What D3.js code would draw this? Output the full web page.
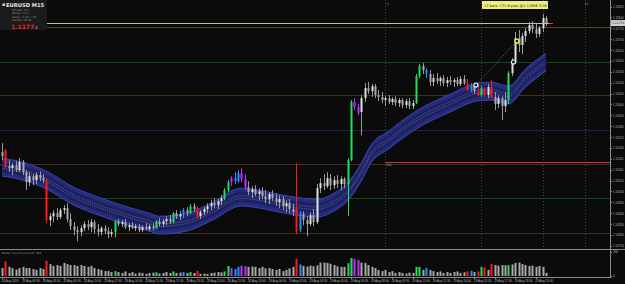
<!DOCTYPE html>
<html>
<head>
<meta charset="utf-8">
<style>
  html, body { margin: 0; padding: 0; background: #0b0b0b; }
  svg { display: block; font-family: "DejaVu Sans", Arial, sans-serif; }
  .axis path, .axis line { stroke: #8a8a8a; shape-rendering: crispEdges; }
  .axis text { fill: #b4b4b4; }
</style>
</head>
<body>
<svg id="chart" width="625" height="284"></svg>
<script src="https://d3js.org/d3.v7.min.js"></script>
<script>
// EURUSD M15 bars (bar 0 = leftmost)
const opens = [
  1.11181,1.11190,1.11116,1.11107,1.11121,1.11098,1.11135,1.11089,1.11043,1.11070,
  1.11052,1.11075,1.11061,1.11052,1.10868,1.10886,1.10900,1.10882,1.10914,1.10923,
  1.10873,1.10840,1.10822,1.10813,1.10831,1.10850,1.10836,1.10859,1.10827,1.10813,
  1.10831,1.10817,1.10804,1.10813,1.10863,1.10850,1.10859,1.10836,1.10845,1.10831,
  1.10840,1.10822,1.10836,1.10827,1.10840,1.10831,1.10863,1.10850,1.10863,1.10873,
  1.10859,1.10900,1.10886,1.10896,1.10914,1.10900,1.10932,1.10923,1.10886,1.10905,
  1.10919,1.10932,1.10946,1.10937,1.10955,1.10969,1.11006,1.11043,1.11061,1.11047,
  1.11084,1.11057,1.11020,1.10997,1.11011,1.10988,1.11001,1.10978,1.10965,1.10988,
  1.10969,1.10951,1.10965,1.10932,1.10946,1.10919,1.10923,1.10822,1.10896,1.10868,
  1.10850,1.10891,1.10859,1.11015,1.11038,1.11024,1.11061,1.11029,1.11052,1.11034,
  1.11057,1.11034,1.11144,1.11411,1.11388,1.11365,1.11429,1.11475,1.11461,1.11484,
  1.11443,1.11434,1.11420,1.11429,1.11411,1.11425,1.11406,1.11420,1.11397,1.11415,
  1.11392,1.11406,1.11530,1.11576,1.11558,1.11540,1.11503,1.11521,1.11507,1.11521,
  1.11498,1.11512,1.11503,1.11512,1.11494,1.11517,1.11498,1.11466,1.11484,1.11461,
  1.11443,1.11475,1.11443,1.11480,1.11434,1.11402,1.11429,1.11392,1.11420,1.11544,
  1.11595,1.11705,1.11673,1.11714,1.11737,1.11765,1.11747,1.11724,1.11751,1.11797]
const highs = [
  1.11222,1.11195,1.11144,1.11130,1.11139,1.11153,1.11144,1.11098,1.11089,1.11080,
  1.11089,1.11093,1.11080,1.11061,1.10900,1.10914,1.10923,1.10923,1.10937,1.10946,
  1.10900,1.10859,1.10840,1.10845,1.10863,1.10868,1.10873,1.10868,1.10850,1.10840,
  1.10845,1.10836,1.10827,1.10868,1.10873,1.10868,1.10873,1.10854,1.10859,1.10850,
  1.10850,1.10845,1.10854,1.10850,1.10854,1.10868,1.10877,1.10873,1.10886,1.10891,
  1.10905,1.10914,1.10909,1.10923,1.10928,1.10942,1.10946,1.10932,1.10914,1.10928,
  1.10946,1.10960,1.10969,1.10965,1.10983,1.11015,1.11052,1.11070,1.11089,1.11098,
  1.11107,1.11080,1.11047,1.11024,1.11029,1.11015,1.11020,1.11006,1.10997,1.11006,
  1.10992,1.10983,1.10978,1.10960,1.10965,1.10942,1.11130,1.10909,1.10909,1.10886,
  1.10905,1.10919,1.11034,1.11061,1.11080,1.11089,1.11080,1.11070,1.11075,1.11070,
  1.11066,1.11153,1.11420,1.11429,1.11402,1.11443,1.11498,1.11503,1.11494,1.11494,
  1.11466,1.11457,1.11438,1.11443,1.11434,1.11438,1.11429,1.11429,1.11425,1.11429,
  1.11420,1.11540,1.11586,1.11590,1.11567,1.11558,1.11540,1.11544,1.11530,1.11535,
  1.11526,1.11530,1.11521,1.11526,1.11530,1.11535,1.11517,1.11498,1.11494,1.11494,
  1.11484,1.11480,1.11494,1.11512,1.11457,1.11443,1.11438,1.11457,1.11553,1.11613,
  1.11733,1.11742,1.11728,1.11751,1.11779,1.11783,1.11770,1.11760,1.11816,1.11806]
const lows = [
  1.11144,1.11107,1.11089,1.11075,1.11089,1.11089,1.11075,1.11006,1.11024,1.11029,
  1.11034,1.11047,1.11038,1.10854,1.10840,1.10859,1.10868,1.10873,1.10896,1.10859,
  1.10822,1.10799,1.10771,1.10794,1.10817,1.10822,1.10813,1.10808,1.10794,1.10799,
  1.10804,1.10785,1.10790,1.10790,1.10840,1.10836,1.10827,1.10817,1.10827,1.10817,
  1.10813,1.10813,1.10822,1.10817,1.10822,1.10827,1.10840,1.10836,1.10845,1.10850,
  1.10854,1.10873,1.10868,1.10877,1.10886,1.10896,1.10905,1.10877,1.10873,1.10891,
  1.10900,1.10914,1.10923,1.10919,1.10937,1.10960,1.10997,1.11024,1.11034,1.11038,
  1.11043,1.11006,1.10983,1.10969,1.10978,1.10960,1.10965,1.10946,1.10942,1.10955,
  1.10932,1.10923,1.10914,1.10905,1.10900,1.10886,1.10804,1.10813,1.10845,1.10794,
  1.10840,1.10840,1.10850,1.10992,1.11006,1.11015,1.11006,1.11011,1.11015,1.11006,
  1.11015,1.10886,1.11139,1.11374,1.11351,1.11259,1.11411,1.11448,1.11434,1.11429,
  1.11415,1.11406,1.11392,1.11402,1.11397,1.11392,1.11388,1.11383,1.11383,1.11379,
  1.11379,1.11402,1.11521,1.11540,1.11521,1.11484,1.11484,1.11494,1.11484,1.11484,
  1.11480,1.11489,1.11480,1.11484,1.11484,1.11489,1.11461,1.11457,1.11448,1.11438,
  1.11434,1.11434,1.11429,1.11429,1.11374,1.11383,1.11328,1.11365,1.11402,1.11530,
  1.11586,1.11641,1.11632,1.11687,1.11724,1.11728,1.11705,1.11710,1.11733,1.11760]
const closes = [
  1.11162,1.11116,1.11107,1.11121,1.11098,1.11135,1.11089,1.11043,1.11070,1.11052,
  1.11075,1.11061,1.11052,1.10868,1.10886,1.10900,1.10882,1.10914,1.10923,1.10873,
  1.10840,1.10822,1.10813,1.10831,1.10850,1.10836,1.10859,1.10827,1.10813,1.10831,
  1.10817,1.10804,1.10813,1.10863,1.10850,1.10859,1.10836,1.10845,1.10831,1.10840,
  1.10822,1.10836,1.10827,1.10840,1.10831,1.10863,1.10850,1.10863,1.10873,1.10859,
  1.10900,1.10886,1.10896,1.10914,1.10900,1.10932,1.10919,1.10886,1.10905,1.10919,
  1.10932,1.10946,1.10937,1.10955,1.10969,1.11006,1.11043,1.11061,1.11047,1.11084,
  1.11057,1.11020,1.10997,1.11011,1.10988,1.11001,1.10978,1.10965,1.10988,1.10969,
  1.10951,1.10965,1.10932,1.10946,1.10919,1.10905,1.10817,1.10896,1.10868,1.10850,
  1.10891,1.10859,1.11015,1.11038,1.11024,1.11061,1.11029,1.11052,1.11034,1.11057,
  1.11034,1.11144,1.11411,1.11388,1.11360,1.11429,1.11475,1.11461,1.11484,1.11443,
  1.11434,1.11420,1.11429,1.11411,1.11425,1.11406,1.11420,1.11397,1.11415,1.11392,
  1.11406,1.11530,1.11576,1.11558,1.11540,1.11503,1.11521,1.11507,1.11521,1.11498,
  1.11512,1.11503,1.11512,1.11494,1.11517,1.11498,1.11466,1.11484,1.11461,1.11443,
  1.11475,1.11443,1.11480,1.11434,1.11402,1.11429,1.11392,1.11420,1.11544,1.11595,
  1.11705,1.11673,1.11714,1.11737,1.11765,1.11747,1.11724,1.11751,1.11797,1.11774]
// tick volume per bar
const volumes = [
  130,240,150,130,105,130,150,130,130,115,
  100,130,115,250,195,165,180,165,215,195,
  180,180,165,180,165,150,165,130,115,100,
  80,80,65,80,65,50,75,50,65,40,
  55,50,35,50,55,60,40,50,65,50,
  75,50,55,65,50,65,50,85,35,40,
  35,50,55,65,60,75,165,130,115,150,
  170,165,150,155,150,130,150,125,130,115,
  100,115,80,100,125,150,280,190,165,155,
  170,160,175,220,220,215,200,180,160,150,
  150,210,295,280,265,220,215,180,150,130,
  100,80,100,65,80,50,65,50,40,55,
  50,150,150,100,130,100,80,65,75,50,
  65,50,65,75,50,60,75,85,65,75,
  150,140,100,195,180,170,180,175,180,190,
  215,220,195,180,165,170,150,165,150,50]

// bars painted by the volume indicator (r climax down, g climax up, b churn, m low vol)
const colorBars  = [1,13,33,45,50,53,55,57,65,66,67,68,69,70,71,86,87,101,102,103,104,121,122,124,136,137,139,140,141,143,148]
const colorTypes = ["r","r","g","g","g","b","g","r","g","g","m","b","b","m","m","r","b","g","g","m","m","g","g","b","r","b","r","g","r","r","g"]

// moving average ribbon centre
const bandBars = [0,7,13,21,29,37,43,46,54,61,70,75,84,92,97,101,105,108,113,116,121,131,139,143,148,153,159]
const bandMid  = [1.11112,1.11089,1.11052,1.10978,1.10928,1.10886,1.10859,1.10845,1.10859,1.10905,1.10974,1.10965,1.10937,1.10923,1.10951,1.10997,1.11089,1.11176,1.11236,1.11273,1.11328,1.11406,1.11457,1.11461,1.11443,1.11521,1.11595]

// horizontal pivot levels
const levels = [1.11756,1.11595,1.11443,1.11282,1.11126,1.10969,1.10808]
const redLevel = 1.11135
const bidPrice = 1.11774

// vertical separators (bar positions)
const sepBars = [112,140,158,170.5]

// projection markers and dotted trend line
const markBars   = [138.5,149.5,150.5]
const markPrices = [1.11489,1.11595,1.11691]

const priceTicks = [1.1185,1.1180,1.1175,1.1170,1.1165,1.1160,1.1155,1.1150,1.1145,1.1140,1.1135,1.1130,
                    1.1125,1.1120,1.1115,1.1110,1.1105,1.1100,1.1095,1.1090,1.1085,1.1080,1.1075]
const timeTickBars = d3.range(0, 157, 6)
const timeLabels = ["28 Aug 2019","28 Aug 06:30","28 Aug 08:00","28 Aug 09:30","28 Aug 11:00","28 Aug 12:30",
  "28 Aug 14:00","28 Aug 15:30","28 Aug 17:00","28 Aug 18:30","28 Aug 20:00","28 Aug 21:30","28 Aug 23:00",
  "29 Aug 00:30","29 Aug 02:00","29 Aug 03:30","29 Aug 05:00","29 Aug 06:30","29 Aug 08:00","29 Aug 09:30",
  "29 Aug 11:00","29 Aug 12:30","29 Aug 14:00","29 Aug 15:30","29 Aug 17:00","29 Aug 18:30","29 Aug 20:00"]

// ---------------------------------------------------------------
const svg = d3.select("#chart")
const plotRight = 610
const N = opens.length

const xScale = d3.scaleLinear().domain([0, N - 1]).range([2, 546])
const yScale = d3.scaleLinear().domain([1.1074, 1.1188]).range([248, 0])
const vScale = d3.scaleLinear().domain([0, 394]).range([276, 252])

const palette = { r: "#ff1a1a", g: "#1ee05c", b: "#2a8cff", m: "#c22cff" }
const levelColors = ["#454a1c", "#174817", "#46301a", "#18254f", "#46301a", "#174817", "#46301a"]
let colorOf = {}
colorBars.forEach((b, i) => colorOf[b] = palette[colorTypes[i]])

svg.append("rect").attr("width", 625).attr("height", 284).attr("fill", "#0b0b0b")

svg.append("clipPath").attr("id", "mainClip")
  .append("rect").attr("x", 0).attr("y", 0).attr("width", plotRight).attr("height", 248)

let main = svg.append("g").attr("clip-path", "url(#mainClip)")

// pivot levels
main.selectAll(".lvl").data(levels).enter().append("line")
  .attr("x1", 0).attr("x2", plotRight)
  .attr("y1", d => Math.round(yScale(d)) + 0.5).attr("y2", d => Math.round(yScale(d)) + 0.5)
  .attr("stroke", (d, i) => levelColors[i]).attr("stroke-width", 1)

// vertical dotted separators
main.selectAll(".sep").data(sepBars).enter().append("line")
  .attr("x1", d => Math.round(xScale(d)) + 0.5).attr("x2", d => Math.round(xScale(d)) + 0.5)
  .attr("y1", 0).attr("y2", 248)
  .attr("stroke", "#444").attr("stroke-dasharray", "1,2")

// red level line with its tag
main.append("line")
  .attr("x1", xScale(112)).attr("x2", plotRight)
  .attr("y1", Math.round(yScale(redLevel)) + 0.5).attr("y2", Math.round(yScale(redLevel)) + 0.5)
  .attr("stroke", "#d83434").attr("stroke-width", 1)
main.append("text")
  .attr("x", xScale(112) + 1).attr("y", yScale(redLevel) + 4)
  .attr("font-size", 3).attr("fill", "#9a9a9a").text("PDL")

// MA ribbon
const bandPts = bandBars.map((b, i) => ({ b: b, p: bandMid[i] }))
function ribbon(off) {
  return d3.area().curve(d3.curveMonotoneX)
    .x(d => xScale(d.b))
    .y0(d => yScale(d.p - off)).y1(d => yScale(d.p + off))
}
function edge(off) {
  return d3.line().curve(d3.curveMonotoneX).x(d => xScale(d.b)).y(d => yScale(d.p + off))
}
main.append("path").datum(bandPts).attr("d", ribbon(0.00041)).attr("fill", "#262c7c")
main.append("path").datum(bandPts).attr("d", ribbon(0.00024)).attr("fill", "#1c2163")
;[0.00041, -0.00041].forEach(o => {
  main.append("path").datum(bandPts).attr("d", edge(o))
    .attr("fill", "none").attr("stroke", "#3a45b0").attr("stroke-width", 1)
})
;[0.00006, -0.00006].forEach(o => {
  main.append("path").datum(bandPts).attr("d", edge(o))
    .attr("fill", "none").attr("stroke", "#8c8ca4").attr("stroke-width", 0.6)
    .attr("stroke-dasharray", "1,1")
})

// candles
const bars = d3.range(N).map(i => ({ i: i, o: opens[i], h: highs[i], l: lows[i], c: closes[i], col: colorOf[i] }))
let cg = main.append("g")
cg.selectAll(".wick").data(bars).enter().append("line")
  .attr("x1", d => Math.round(xScale(d.i)) + 0.5).attr("x2", d => Math.round(xScale(d.i)) + 0.5)
  .attr("y1", d => yScale(d.h)).attr("y2", d => yScale(d.l))
  .attr("stroke", d => d.col || "#9a9a9a").attr("stroke-width", 1)
cg.selectAll(".body").data(bars).enter().append("rect")
  .attr("x", d => Math.round(xScale(d.i)) - 0.5)
  .attr("width", 2)
  .attr("y", d => Math.min(yScale(d.o), yScale(d.c)))
  .attr("height", d => Math.max(1, Math.abs(yScale(d.o) - yScale(d.c))))
  .attr("fill", d => d.col || (d.c >= d.o ? "#e0e0e0" : "#aaaaaa"))

// bid / high line
main.append("line")
  .attr("x1", 0).attr("x2", 549)
  .attr("y1", Math.round(yScale(bidPrice)) + 0.5).attr("y2", Math.round(yScale(bidPrice)) + 0.5)
  .attr("stroke", "#bcbcbc").attr("stroke-width", 1)
main.append("line")
  .attr("x1", 549).attr("x2", 553)
  .attr("y1", Math.round(yScale(bidPrice)) + 0.5).attr("y2", Math.round(yScale(bidPrice)) + 0.5)
  .attr("stroke", "#ff2a2a").attr("stroke-width", 1)

// projection line + markers
main.append("line")
  .attr("x1", xScale(markBars[0])).attr("y1", yScale(markPrices[0]))
  .attr("x2", xScale(markBars[2])).attr("y2", yScale(markPrices[2]))
  .attr("stroke", "#3fa0a8").attr("stroke-width", 0.8).attr("stroke-dasharray", "1,1.5")
const markCols = ["#d8f4ff", "#d8f4ff", "#ffff30"]
markBars.forEach((b, i) => {
  main.append("circle").attr("cx", xScale(b)).attr("cy", yScale(markPrices[i])).attr("r", 2)
    .attr("fill", "#111").attr("stroke", markCols[i]).attr("stroke-width", 1.2)
})

// top labels
main.append("text").attr("x", xScale(112) + 1).attr("y", 5).attr("font-size", 3.2)
  .attr("fill", "#6a6a6a").text("9i")
main.append("text").attr("x", xScale(170.5) - 1).attr("y", 5).attr("font-size", 3.2)
  .attr("fill", "#a0a040").text("12")

// measurement tag
main.append("rect").attr("x", 482).attr("y", 1).attr("width", 66).attr("height", 8).attr("fill", "#eeee78")
main.append("text").attr("x", 484).attr("y", 6.6).attr("font-size", 3.6).attr("fill", "#333")
  .text("12 bars  +21.6 pips  @1.11696  3:00")

// info panel
let panel = svg.append("g")
panel.append("rect").attr("x", 0).attr("y", 0).attr("width", 47).attr("height", 30).attr("fill", "#1b1b1b")
panel.append("text").attr("x", 2).attr("y", 6).attr("font-size", 5).attr("fill", "#d0d0d0").text("▪")
panel.append("text").attr("x", 6).attr("y", 6.5).attr("font-size", 5.2).attr("font-weight", "bold")
  .attr("fill", "#e6e6e6").text("EURUSD  M15")
const infoRows = ["Spread:   0.6", "Range:   74.7", "Swap:  -7.43 / 1.8", "Candle:  09:32"]
infoRows.forEach((t, i) => {
  panel.append("text").attr("x", 12).attr("y", 10.5 + i * 3.6).attr("font-size", 2.8)
    .attr("fill", "#8c8c8c").text(t)
})
panel.append("text").attr("x", 11).attr("y", 28.5).attr("font-size", 6).attr("font-weight", "bold")
  .attr("fill", "#ff2020").text("1.1177")
panel.append("text").attr("x", 35).attr("y", 28.5).attr("font-size", 4).attr("fill", "#d0d0d0").text("3")

// volume sub window
svg.append("line").attr("x1", 0).attr("x2", 625).attr("y1", 249.5).attr("y2", 249.5).attr("stroke", "#8a8a8a")
svg.append("line").attr("x1", 0).attr("x2", plotRight).attr("y1", 277.5).attr("y2", 277.5).attr("stroke", "#8a8a8a")
svg.append("text").attr("x", 2).attr("y", 254).attr("font-size", 2.8).attr("fill", "#9a9a9a")
  .text("Better Tick Price    Count: 324")
svg.append("g").selectAll("rect").data(bars).enter().append("rect")
  .attr("x", d => Math.round(xScale(d.i)) - 0.5)
  .attr("width", 2)
  .attr("y", d => vScale(volumes[d.i]))
  .attr("height", d => vScale(0) - vScale(volumes[d.i]))
  .attr("fill", d => d.col || "#a8a8a8")

// price axis
let pAxis = svg.append("g").attr("class", "axis").attr("transform", "translate(" + plotRight + ",0)")
  .call(d3.axisRight(yScale).tickValues(priceTicks).tickFormat(d3.format(".5f")).tickSize(2).tickSizeOuter(0).tickPadding(1))
pAxis.selectAll("text").attr("font-size", 3)
pAxis.select(".domain").attr("d", "M0.5,0V249")

// current price box
svg.append("rect").attr("x", 611).attr("y", yScale(bidPrice) - 3).attr("width", 14).attr("height", 6).attr("fill", "#cfcfcf")
svg.append("text").attr("x", 612).attr("y", yScale(bidPrice) + 1.2).attr("font-size", 3).attr("fill", "#111")
  .text(d3.format(".5f")(bidPrice))

// volume axis
let vAxis = svg.append("g").attr("class", "axis").attr("transform", "translate(" + plotRight + ",0)")
  .call(d3.axisRight(vScale).tickValues([0, 394]).tickSize(2).tickSizeOuter(0).tickPadding(1))
vAxis.selectAll("text").attr("font-size", 3)
vAxis.select(".domain").attr("d", "M0.5,250V278")

// time axis
let tAxis = svg.append("g").attr("class", "axis").attr("transform", "translate(0,277)")
  .call(d3.axisBottom(xScale).tickValues(timeTickBars).tickFormat((d, i) => timeLabels[i]).tickSize(2).tickSizeOuter(0).tickPadding(1))
tAxis.select(".domain").remove()
tAxis.selectAll("text").attr("font-size", 3).attr("text-anchor", "start").attr("dx", "-0.3em")
</script>
</body>
</html>
